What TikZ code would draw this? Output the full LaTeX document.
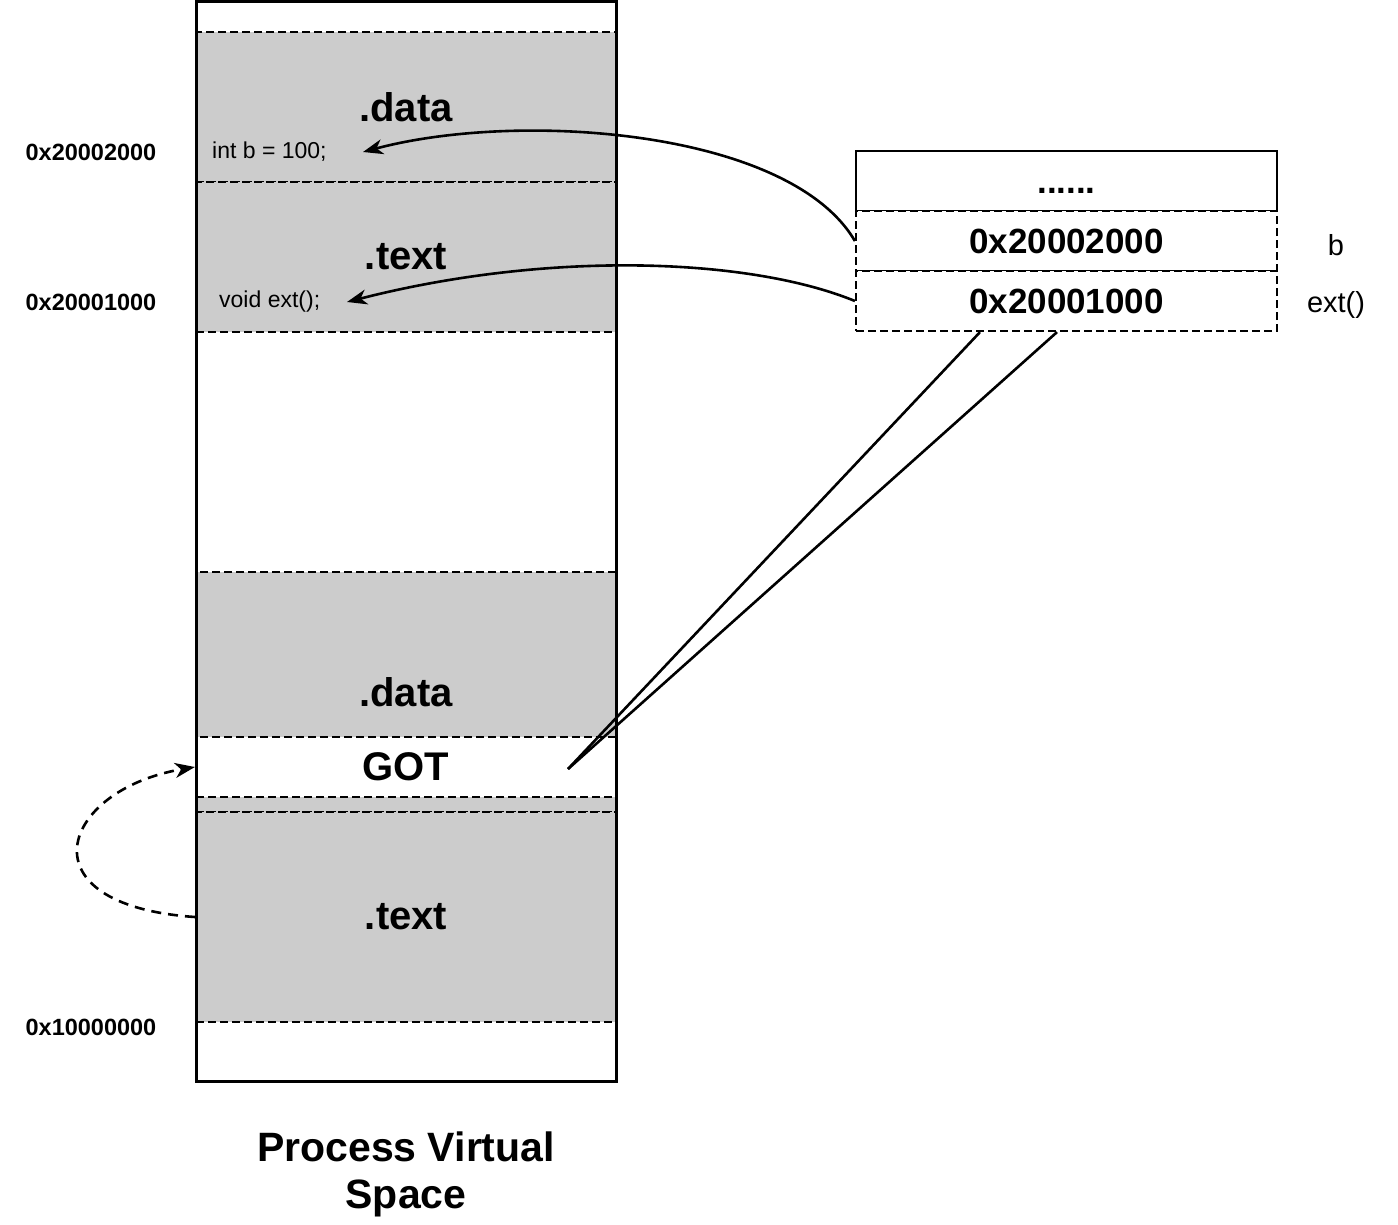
\documentclass[tikz,border=0pt]{standalone}
\usepackage{fontspec}
\setmainfont{Liberation Sans}
\usetikzlibrary{arrows.meta}
\definecolor{segfill}{HTML}{CCCCCC}
\begin{document}
\begin{tikzpicture}[x=1pt,y=-1pt,
  seg/.style={draw, dash pattern=on 8pt off 4pt, line width=2.2pt, fill=segfill,
    minimum width=420pt, inner sep=0pt, font=\fontsize{40}{48}\selectfont\bfseries},
  gotbox/.style={seg, fill=white},
  cell/.style={draw, dash pattern=on 8pt off 4pt, line width=2.2pt, fill=white,
    minimum width=421pt, minimum height=60pt, inner sep=0pt,
    text height=25pt, text depth=0pt, font=\fontsize{35}{42}\selectfont\bfseries},
  topcell/.style={cell, solid, line width=2.6pt},
  outerbox/.style={draw, line width=3pt, minimum width=420pt, minimum height=1080pt, inner sep=0pt},
  addr/.style={font=\fontsize{23.5}{28}\selectfont\bfseries},
  code/.style={font=\fontsize{23}{28}\selectfont, inner sep=0pt},
  side/.style={font=\fontsize{29}{34}\selectfont},
  link/.style={line width=2.6pt, -{Stealth[length=20pt,width=15pt,inset=6pt]}},
  dlink/.style={link, dash pattern=on 10pt off 7pt},
  plain/.style={line width=2.6pt},
]
\useasboundingbox (0,0) rectangle (1398,1224);

% process virtual space segments
\node[seg, minimum height=150pt] (data1) at (406,107) {.data};
\node[seg, minimum height=150pt] (text1) at (406,257) {.text};
\node[seg, minimum height=240pt] (data2) at (406,692) {.data};
\node[gotbox, minimum height=60pt] (got) at (406,767) {GOT};
\node[seg, minimum height=210pt] (text2) at (406,917) {.text};
\node[outerbox] (space) at (406,541) {};

% code texts
\node[code, anchor=west] (intb) at (212,152) {int b = 100;};
\node[code, anchor=west] (vext) at (219,302) {void ext();};

% addresses
\node[addr] (a1) at (91,152) {0x20002000};
\node[addr] (a2) at (91,302) {0x20001000};
\node[addr] (a3) at (91,1027) {0x10000000};

% table
\node[topcell] (t0) at (1066.5,181) {......};
\node[cell] (t1) at (1066.5,241) {0x20002000};
\node[cell] (t2) at (1066.5,301) {0x20001000};
\node[side] (lb) at (1336,245) {b};
\node[side] (le) at (1336,305) {ext()};

% title
\node[font=\fontsize{41}{47}\selectfont\bfseries, align=center] (title) at (406,1174) {Process Virtual\\Space};

% connectors
\coordinate (pb) at (363,152);
\coordinate (pe) at (347,302);
\coordinate (gp) at (568,769);
\draw[link] (t1.west) .. controls (790,130) and (520,110) .. (pb);
\draw[link] (t2.west) .. controls (750,258) and (550,250) .. (pe);
\draw[plain] (gp) -- ([xshift=-86.5pt]t2.south);
\draw[plain] (gp) -- ([xshift=-9.5pt]t2.south);
\draw[dlink] (text2.west) .. controls (20,905) and (60,790) .. (got.west);
\end{tikzpicture}
\end{document}
